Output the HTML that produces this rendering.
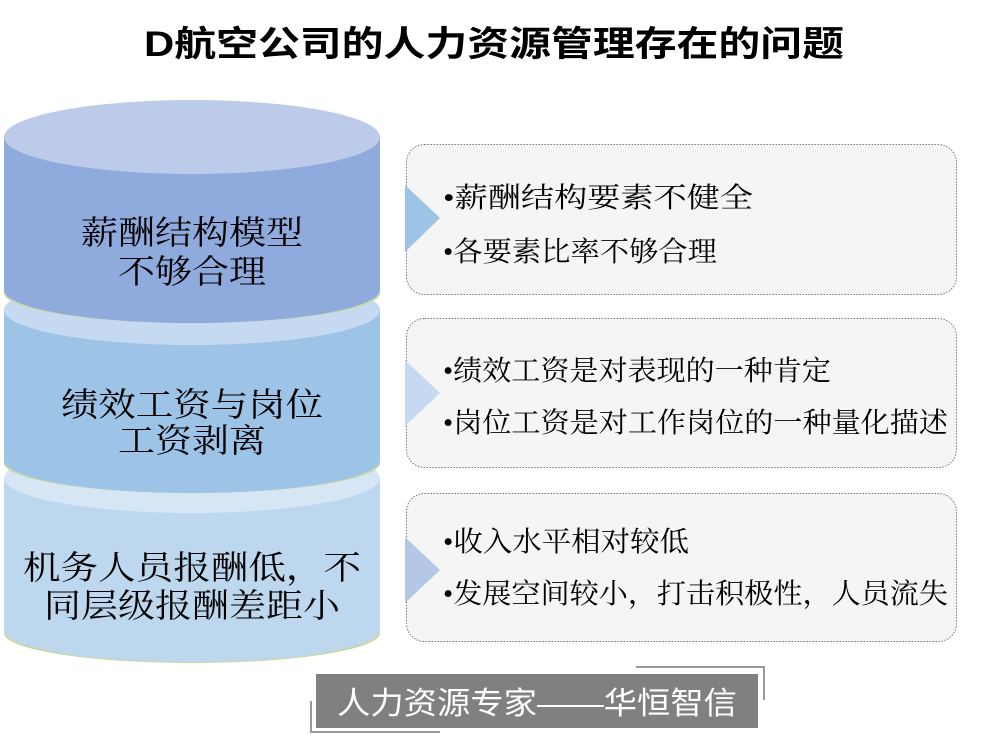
<!DOCTYPE html>
<html><head><meta charset="utf-8"><style>
html,body{margin:0;padding:0;background:#fff;}
svg{display:block;}
text{font-family:"Liberation Sans","Noto Sans CJK SC",sans-serif;}
.sf{font-family:"Liberation Serif","Noto Serif CJK SC",serif;}
</style></head><body>
<svg width="989" height="737" viewBox="0 0 989 737" xmlns="http://www.w3.org/2000/svg">
<text x="494" y="56" text-anchor="middle" font-size="35" font-weight="bold" fill="#000" textLength="700" lengthAdjust="spacingAndGlyphs">D航空公司的人力资源管理存在的问题</text>

<!-- segment 3 -->
<ellipse cx="192" cy="633" rx="188" ry="30" fill="#c9d8a8"/>
<rect x="4" y="478" width="376" height="152" fill="#bdd7ee"/>
<ellipse cx="192" cy="630" rx="188" ry="32" fill="#bdd7ee"/>
<ellipse cx="192" cy="478" rx="188" ry="35" fill="#d6e6f5"/>
<!-- segment 2 -->
<ellipse cx="192" cy="463" rx="188" ry="30" fill="#c9d8a8"/>
<rect x="4" y="310" width="376" height="150" fill="#9dc3e6"/>
<ellipse cx="192" cy="460" rx="188" ry="33" fill="#9dc3e6"/>
<ellipse cx="192" cy="310" rx="188" ry="35" fill="#c5daf0"/>
<!-- segment 1 -->
<ellipse cx="192" cy="293" rx="188" ry="30" fill="#c9d8a8"/>
<rect x="4" y="137" width="376" height="153" fill="#8faadc"/>
<ellipse cx="192" cy="290" rx="188" ry="33" fill="#8faadc"/>
<ellipse cx="192" cy="137" rx="188" ry="37" fill="#bccbe9"/>

<g class="sf" font-size="33" fill="#000" text-anchor="middle">
<text class="sf" x="192" y="244" textLength="222" lengthAdjust="spacingAndGlyphs">薪酬结构模型</text>
<text class="sf" x="192" y="283" textLength="148" lengthAdjust="spacingAndGlyphs">不够合理</text>
<text class="sf" x="192" y="416" textLength="262" lengthAdjust="spacingAndGlyphs">绩效工资与岗位</text>
<text class="sf" x="192" y="452" textLength="148" lengthAdjust="spacingAndGlyphs">工资剥离</text>
<text class="sf" x="192" y="579" textLength="338" lengthAdjust="spacingAndGlyphs">机务人员报酬低，不</text>
<text class="sf" x="192" y="617" textLength="296" lengthAdjust="spacingAndGlyphs">同层级报酬差距小</text>
</g>

<g fill="#f5f5f5" stroke="#777" stroke-width="1" stroke-dasharray="1.5,1.5">
<rect x="406.5" y="144.5" width="550" height="150" rx="18"/>
<rect x="406.5" y="318.5" width="550" height="149" rx="18"/>
<rect x="406.5" y="493.5" width="550" height="148" rx="18"/>
</g>
<polygon points="405,185 440,218 405,252" fill="#9dc3e6"/>
<polygon points="405,360 440,393 405,426" fill="#c5daf0"/>
<polygon points="405,537 440,570 405,603" fill="#b4c7e7"/>

<g font-size="28" fill="#000">
<text class="sf" x="443" y="207" textLength="310" lengthAdjust="spacingAndGlyphs">•薪酬结构要素不健全</text>
<text class="sf" x="443" y="261" textLength="274" lengthAdjust="spacingAndGlyphs">•各要素比率不够合理</text>
<text class="sf" x="443" y="380" textLength="388" lengthAdjust="spacingAndGlyphs">•绩效工资是对表现的一种肯定</text>
<text class="sf" x="443" y="432" textLength="505" lengthAdjust="spacingAndGlyphs">•岗位工资是对工作岗位的一种量化描述</text>
<text class="sf" x="443" y="551" textLength="246" lengthAdjust="spacingAndGlyphs">•收入水平相对较低</text>
<text class="sf" x="443" y="603" textLength="505" lengthAdjust="spacingAndGlyphs">•发展空间较小，打击积极性，人员流失</text>
</g>

<polyline points="636,667 764,667 764,700" fill="none" stroke="#999" stroke-width="2"/>
<polyline points="311,701 311,732 440,732" fill="none" stroke="#999" stroke-width="2"/>
<rect x="316" y="674" width="442" height="54" fill="#808080"/>
<text x="537" y="714" text-anchor="middle" font-size="31" fill="#fff" textLength="400" lengthAdjust="spacingAndGlyphs">人力资源专家——华恒智信</text>
</svg>
</body></html>
